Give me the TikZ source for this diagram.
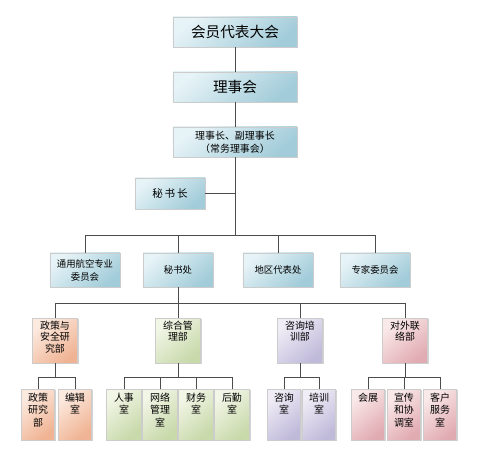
\documentclass[tikz,border=0pt]{standalone}
\usepackage{fontspec}
\setmainfont{Noto Sans CJK SC}
\usetikzlibrary{shadows}
\definecolor{bluL}{HTML}{E6F3F7}\definecolor{bluD}{HTML}{A2CCD9}
\definecolor{orL}{HTML}{FCEADF}\definecolor{orD}{HTML}{F0B393}
\definecolor{grL}{HTML}{F2F6E7}\definecolor{grD}{HTML}{C8D9AA}
\definecolor{puL}{HTML}{F0EDF6}\definecolor{puD}{HTML}{C0BADA}
\definecolor{piL}{HTML}{FAE9E9}\definecolor{piD}{HTML}{E1ABB2}
\newcommand\lfour[1]{\parbox[t][1.2cm][t]{1.3cm}{\centering #1}}
\newcommand\lfive[1]{\parbox[t][1.3cm][t]{1cm}{\centering #1}}
\begin{document}
\begin{tikzpicture}[x=0.03cm,y=-0.03cm,font=\small]
\tikzstyle{bx}=[draw=gray!40,inner sep=1pt,align=center,drop shadow={shadow xshift=1pt,shadow yshift=-1pt,opacity=0.35}]
\tikzstyle{bl}=[bx,top color=bluL,bottom color=bluD,shading angle=40]
\tikzstyle{l3}=[bl,minimum width=2.1cm,minimum height=1.02cm,font=\fontsize{8}{11}\selectfont]
\tikzstyle{l4}=[bx,anchor=north,minimum width=1.35cm,minimum height=1.35cm,inner sep=0pt,font=\fontsize{8.5}{10}\selectfont]
\tikzstyle{l5}=[bx,anchor=north,minimum width=1cm,minimum height=1.53cm,inner sep=0pt,font=\fontsize{8.5}{10.5}\selectfont]
\tikzstyle{ln}=[gray!60!black,line width=0.8pt]
\useasboundingbox (0,0) rectangle (490,456);
% top of the chart
\node[bl,minimum width=3.72cm,minimum height=0.9cm,font=\fontsize{12.5}{14}\selectfont] (hy) at (235,32) {会员代表大会};
\node[bl,minimum width=3.72cm,minimum height=0.9cm,font=\fontsize{12.5}{14}\selectfont] (lsh) at (235,87) {理事会};
\node[bl,minimum width=3.72cm,minimum height=0.9cm,font=\fontsize{8.5}{11}\selectfont] (lsz) at (235,142) {理事长、副理事长\\（常务理事会）};
\node[bl,minimum width=2.1cm,minimum height=0.93cm,font=\fontsize{9}{11}\selectfont] (msz) at (170,193.5) {秘\,书\,长};
\coordinate (b3) at (235,235);
\draw[ln] (hy) -- (lsh); \draw[ln] (lsh) -- (lsz); \draw[ln] (lsz) -- (b3);
\draw[ln] (msz.east) -- (msz.east -| b3);
% second row
\foreach \n/\x/\t in {ty/85/{通用航空专业\\委员会},msc/178/秘书处,dq/278/地区代表处,zj/375/专家委员会} {
 \node[l3] (\n) at (\x,270) {\t};
 \draw[ln] (\n.north) -- (\n.north |- b3);
}
\draw[ln] (ty.north |- b3) -- (zj.north |- b3);
% departments
\coordinate (b4) at (178,303);
\node[l4,top color=orL,bottom color=orD,shading angle=40] (zc) at (55,318) {\lfour{政策与\\安全研\\究部}};
\node[l4,top color=grL,bottom color=grD,shading angle=40] (zh) at (178,318) {\lfour{综合管\\理部}};
\node[l4,top color=puL,bottom color=puD,shading angle=40] (zx) at (300,318) {\lfour{咨询培\\训部}};
\node[l4,top color=piL,bottom color=piD,shading angle=40] (dw) at (405,318) {\lfour{对外联\\络部}};
\draw[ln] (msc.south) -- (b4);
\draw[ln] (zc.north |- b4) -- (dw.north |- b4);
\foreach \n in {zc,zh,zx,dw} \draw[ln] (\n.north) -- (\n.north |- b4);
% offices
\coordinate (b5) at (0,377);
\foreach \n/\x/\t in {zc1/38/{政策\\研究\\部},zc2/75/{编辑\\室}}
 \node[l5,top color=orL,bottom color=orD,shading angle=40] (\n) at (\x,389) {\lfive{\t}};
\foreach \n/\x/\t in {zh1/124/{人事\\室},zh2/160/{网络\\管理\\室},zh3/196/{财务\\室},zh4/232/{后勤\\室}}
 \node[l5,minimum width=1.05cm,top color=grL,bottom color=grD,shading angle=40] (\n) at (\x,389) {\lfive{\t}};
\foreach \n/\x/\t in {zx1/284/{咨询\\室},zx2/319/{培训\\室}}
 \node[l5,top color=puL,bottom color=puD,shading angle=40] (\n) at (\x,389) {\lfive{\t}};
\foreach \n/\x/\t in {dw1/368/会展,dw2/404/{宣传\\和协\\调室},dw3/440/{客户\\服务\\室}}
 \node[l5,top color=piL,bottom color=piD,shading angle=40] (\n) at (\x,389) {\lfive{\t}};
\foreach \p/\a/\b in {zc/zc1/zc2,zh/zh1/zh4,zx/zx1/zx2,dw/dw1/dw3} {
 \draw[ln] (\p.south) -- (\p.south |- b5);
 \draw[ln] (\a.north) -- (\a.north |- b5) -- (\b.north |- b5) -- (\b.north);
}
\foreach \n in {zh2,zh3,dw2} \draw[ln] (\n.north) -- (\n.north |- b5);
\end{tikzpicture}
\end{document}
